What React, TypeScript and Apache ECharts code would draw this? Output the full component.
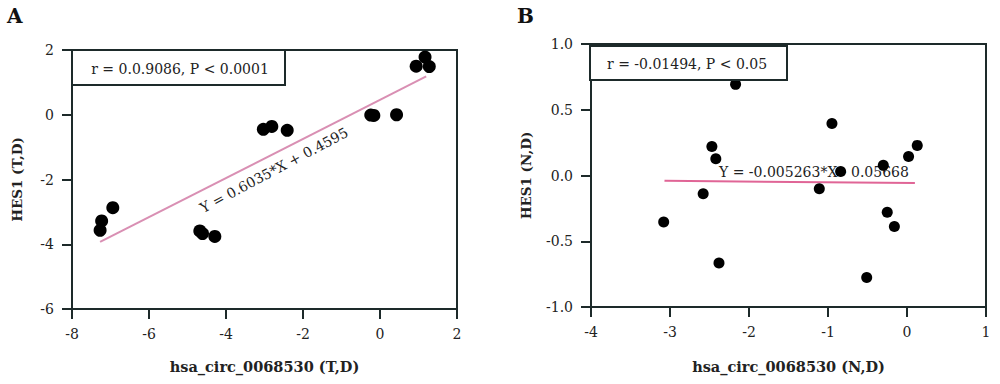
import React, { useEffect, useRef } from "react";
import * as echarts from "echarts";

// Panel A data: hsa_circ_0068530 (T,D) vs HES1 (T,D)
const aX = [-7.27, -7.23, -6.94, -4.68, -4.61, -4.29, -3.03, -2.81, -2.41, -0.24, -0.16, 0.43, 0.94, 1.17, 1.28];
const aY = [-3.57, -3.28, -2.87, -3.59, -3.67, -3.76, -0.45, -0.36, -0.48, -0.01, -0.02, 0.0, 1.5, 1.78, 1.49];
const aFitX = [-7.27, 1.2];
const aSlope = 0.6035;
const aIntercept = 0.4595;

// Panel B data: hsa_circ_0068530 (N,D) vs HES1 (N,D)
const bX = [-3.08, -2.58, -2.47, -2.42, -2.38, -2.17, -1.11, -0.95, -0.84, -0.51, -0.3, -0.25, -0.16, 0.02, 0.13];
const bY = [-0.354, -0.138, 0.221, 0.128, -0.665, 0.693, -0.1, 0.396, 0.031, -0.775, 0.077, -0.28, -0.387, 0.145, 0.229];
const bFitX = [-3.07, 0.1];
const bSlope = -0.005263;
const bIntercept = -0.05668;

const FONT = "DejaVu Serif";
const AXIS = "#1d2a2a";

export default function App() {
  const ref = useRef<HTMLDivElement>(null);
  useEffect(() => {
    if (!ref.current) return;
    const chart = echarts.init(ref.current, undefined, { renderer: "svg" });
    const axisCommon = (extra: any) => ({
      axisLine: { show: true, onZero: false, lineStyle: { color: AXIS, width: 2 } },
      axisTick: { show: true, inside: false, length: 10, lineStyle: { color: AXIS, width: 2 } },
      splitLine: { show: false },
      axisLabel: { color: "#222", fontFamily: FONT, fontSize: 14, margin: 18 },
      nameTextStyle: { color: "#222", fontFamily: FONT, fontSize: 14.5, fontWeight: "bold" },
      nameLocation: "middle",
      ...extra,
    });
    const fitA = aFitX.map((x) => [x, aSlope * x + aIntercept]);
    const fitB = bFitX.map((x) => [x, bSlope * x + bIntercept]);
    const yName = { color: "#222", fontFamily: FONT, fontSize: 13.5, fontWeight: "bold" };
    chart.setOption({
      animation: false,
      grid: [
        { left: 72, top: 50, width: 385, height: 259, show: true, borderColor: AXIS, borderWidth: 2 },
        { left: 591, top: 44, width: 395, height: 263, show: true, borderColor: AXIS, borderWidth: 2 },
      ],
      xAxis: [
        axisCommon({ gridIndex: 0, type: "value", min: -8, max: 2, interval: 2, name: "hsa_circ_0068530 (T,D)", nameGap: 50 }),
        axisCommon({ gridIndex: 1, type: "value", min: -4, max: 1, interval: 1, name: "hsa_circ_0068530 (N,D)", nameGap: 52 }),
      ],
      yAxis: [
        axisCommon({ gridIndex: 0, type: "value", min: -6, max: 2, interval: 2, name: "HES1 (T,D)", nameGap: 48, nameTextStyle: yName }),
        axisCommon({
          gridIndex: 1, type: "value", min: -1, max: 1, interval: 0.5, name: "HES1 (N,D)", nameGap: 58, nameTextStyle: yName,
          axisLabel: { color: "#222", fontFamily: FONT, fontSize: 14, margin: 18, formatter: (v: number) => v.toFixed(1) },
        }),
      ],
      series: [
        {
          type: "line", xAxisIndex: 0, yAxisIndex: 0, data: fitA, symbol: "none",
          lineStyle: { color: "#d98fb3", width: 2 }, z: 2,
        },
        {
          type: "scatter", xAxisIndex: 0, yAxisIndex: 0, data: aX.map((x, i) => [x, aY[i]]),
          symbolSize: 13, itemStyle: { color: "#000", opacity: 1 }, z: 5,
        },
        {
          type: "line", xAxisIndex: 1, yAxisIndex: 1, data: fitB, symbol: "none",
          lineStyle: { color: "#e06596", width: 2 }, z: 2,
        },
        {
          type: "scatter", xAxisIndex: 1, yAxisIndex: 1, data: bX.map((x, i) => [x, bY[i]]),
          symbolSize: 11, itemStyle: { color: "#000", opacity: 1 }, z: 5,
        },
      ],
      graphic: [
        { type: "text", left: 7, top: 6, style: { text: "A", font: `bold 20px '${FONT}'`, fill: "#111" } },
        { type: "text", left: 517, top: 6, style: { text: "B", font: `bold 20px '${FONT}'`, fill: "#111" } },
        {
          type: "rect", shape: { x: 72, y: 50, width: 213, height: 35 },
          style: { fill: "#fff", stroke: AXIS, lineWidth: 2 }, z: 10,
        },
        {
          type: "text", x: 180, y: 69, z: 11,
          style: { text: "r = 0.0.9086, P < 0.0001", font: `14px '${FONT}'`, fill: "#222", align: "center", verticalAlign: "middle" },
        },
        {
          type: "rect", shape: { x: 590, y: 46, width: 197, height: 34 },
          style: { fill: "#fff", stroke: AXIS, lineWidth: 2 }, z: 10,
        },
        {
          type: "text", x: 607, y: 64, z: 11,
          style: { text: "r = -0.01494, P < 0.05", font: `14px '${FONT}'`, fill: "#222", align: "left", verticalAlign: "middle" },
        },
        {
          type: "text", x: 274, y: 170, rotation: (28 * Math.PI) / 180, z: 3,
          style: { text: "Y = 0.6035*X + 0.4595", font: `14px '${FONT}'`, fill: "#222", align: "center", verticalAlign: "middle" },
        },
        {
          type: "text", x: 719, y: 172, z: 3,
          style: { text: "Y = -0.005263*X - 0.05668", font: `14px '${FONT}'`, fill: "#222", align: "left", verticalAlign: "middle" },
        },
      ],
    });
    return () => chart.dispose();
  }, []);
  return <div ref={ref} style={{ position: "fixed", left: 0, top: 0, width: 1000, height: 384, background: "#fff" }} />;
}
